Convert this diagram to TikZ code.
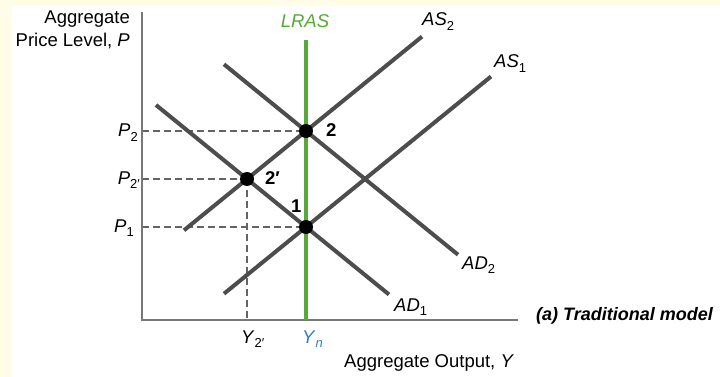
\documentclass[tikz,border=0pt]{standalone}
\usepackage{fontspec}
\setmainfont{Liberation Sans}
\definecolor{bgyellow}{RGB}{255,253,231}
\definecolor{curvegray}{RGB}{77,77,77}
\definecolor{axisgray}{RGB}{120,120,120}
\definecolor{dashgray}{RGB}{100,100,100}
\definecolor{lrasgreen}{RGB}{88,168,58}
\definecolor{ynblue}{RGB}{45,127,212}
\newcommand\lbsub[1]{\raisebox{-0.24em}{\fontsize{13}{14}\selectfont #1}}
\tikzset{
  lbl/.style={inner sep=0pt, font=\fontsize{18.5}{22}\selectfont},
  curve/.style={line width=4pt, draw=curvegray},
  axisline/.style={line width=2pt, draw=axisgray},
  guide/.style={line width=1.7pt, draw=dashgray, dash pattern=on 7pt off 4pt},
  eqdot/.style={circle, fill=black, inner sep=0pt, minimum size=14pt}
}
\begin{document}
\begin{tikzpicture}[x=1pt,y=-1pt]
\fill[bgyellow] (0,0) rectangle (720,377);
\fill[white] (12,6) rectangle (720,377);
\useasboundingbox (0,0) rectangle (720,377);
% key coordinates
\coordinate (origin) at (142,320);
\coordinate (ytop) at (142,12);
\coordinate (xend) at (518,320);
\coordinate (E1) at (306,227);
\coordinate (E2) at (306,131);
\coordinate (E2p) at (247,179);
\coordinate (lrasTop) at (306,40);
\coordinate (lrasBot) at (306,320);
\coordinate (pTwo) at (142,131);
\coordinate (pTwoP) at (142,179);
\coordinate (pOne) at (142,227);
\coordinate (yTwoP) at (247,320);
\coordinate (ad1a) at (156,105);
\coordinate (ad1b) at (389,294.5);
\coordinate (ad2a) at (224,64.3);
\coordinate (ad2b) at (458,254.7);
\coordinate (as2a) at (184,230.3);
\coordinate (as2b) at (422,36.6);
\coordinate (as1a) at (224,293.7);
\coordinate (as1b) at (491,76.5);
% guides
\draw[guide] (pTwo) -- (E2);
\draw[guide] (pTwoP) -- (E2p);
\draw[guide] (pOne) -- (E1);
\draw[guide] (E2p) -- (yTwoP);
% axes
\draw[axisline] (ytop) -- (origin) -- (xend);
% curves
\draw[curve] (ad1a) -- (ad1b);
\draw[curve] (ad2a) -- (ad2b);
\draw[curve] (as2a) -- (as2b);
\draw[curve] (as1a) -- (as1b);
\draw[line width=4pt, draw=lrasgreen] (lrasTop) -- (lrasBot);
% points
\node[eqdot] (d1) at (E1) {};
\node[eqdot] (d2) at (E2) {};
\node[eqdot] (d2p) at (E2p) {};
% labels
\node[lbl, anchor=base east] (yl1) at (130,24) {Aggregate};
\node[lbl, anchor=base east] (yl2) at (130,47) {Price Level, \textit{P}};
\node[lbl, anchor=base, text=lrasgreen] (lras) at (305,28) {\textit{LRAS}};
\node[lbl, anchor=base west] (as2l) at (422,26) {\textit{AS}\lbsub{2}};
\node[lbl, anchor=base west] (as1l) at (494,68) {\textit{AS}\lbsub{1}};
\node[lbl, anchor=base west] (ad2l) at (462,269) {\textit{AD}\lbsub{2}};
\node[lbl, anchor=base west] (ad1l) at (394,311) {\textit{AD}\lbsub{1}};
\node[lbl, anchor=base east] (p2l) at (138,137) {\textit{P}\lbsub{2}};
\node[lbl, anchor=base east] (p2pl) at (140,184) {\textit{P}\lbsub{2′}};
\node[lbl, anchor=base east] (p1l) at (134,232) {\textit{P}\lbsub{1}};
\node[lbl, anchor=base west] (n2) at (326,137) {\textbf{2}};
\node[lbl, anchor=base west] (n2p) at (265,184) {\textbf{2′}};
\node[lbl, anchor=base west] (n1) at (291,212) {\textbf{1}};
\node[lbl, anchor=base west] (y2pl) at (241,343) {\textit{Y}\lbsub{2′}};
\node[lbl, anchor=base west, text=ynblue] (ynl) at (302,343) {\textit{Y}\lbsub{\textit{n}}};
\node[lbl, anchor=base west] (xl) at (344,367) {Aggregate Output, \textit{Y}};
\node[lbl, anchor=base west, font=\fontsize{18}{22}\selectfont] (cap) at (536,320) {\textbf{\textit{(a) Traditional model}}};
\end{tikzpicture}
\end{document}
